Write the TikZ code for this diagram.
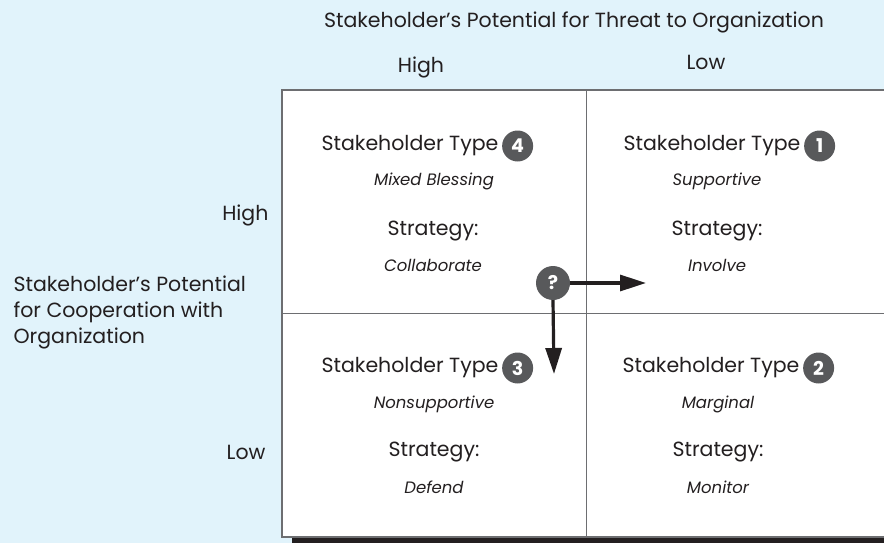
\documentclass[tikz,border=0pt]{standalone}
\usepackage{fontspec}
\setmainfont{Poppins}
\usetikzlibrary{positioning,arrows.meta}
\definecolor{bgblue}{HTML}{E1F3FB}
\definecolor{ink}{HTML}{231F20}
\definecolor{badgegray}{HTML}{58595B}
\definecolor{rulegray}{HTML}{6D6E71}
\begin{document}
\begin{tikzpicture}[x=1pt,y=-1pt,
    lbl/.style={text=ink,font=\fontsize{20.5}{26}\selectfont},
    sub/.style={text=ink,font=\fontsize{16.5}{18}\selectfont\itshape},
    badge/.style={circle,fill=badgegray,text=white,inner sep=0pt,minimum size=31pt,font=\fontsize{19}{19}\selectfont\bfseries},
    bigarrow/.style={draw=ink,line width=3.2pt,-{Triangle[length=26pt,width=16pt]}}]
    % Background
    \fill[bgblue] (0,0) rectangle (884,543);
    \useasboundingbox (0,0) rectangle (884,543);

    % Grid
    \fill[ink] (292,537) rectangle (884,543);
    \fill[white] (282,90) rectangle (884,537);
    \draw[rulegray,line width=1.5pt] (884,90) -- (282,90) -- (282,537) -- (884,537);
    \draw[rulegray,line width=1pt] (586,90) -- (586,537);
    \draw[rulegray,line width=1pt] (282,313) -- (884,313);

    % Axis labels
    \node[lbl] (threat) at (574,22) {Stakeholder’s Potential for Threat to Organization};
    \node[lbl] (threathigh) at (421,67) {High};
    \node[lbl] (threatlow) at (706,62) {Low};
    \node[lbl,anchor=west,align=left] (coop) at (10,312) {Stakeholder’s Potential\\for Cooperation with\\Organization};
    \node[lbl,anchor=east] (coophigh) at (272,215) {High};
    \node[lbl,anchor=east] (cooplow) at (269,452) {Low};

    % Quadrant 4 (top left)
    \node[lbl] (type4) at (410,146) {Stakeholder Type};
    \node[badge,right=0pt of type4] (n4) {4};
    \node[sub] (kind4) at (434,181) {Mixed Blessing};
    \node[lbl] (strat4) at (433,231) {Strategy:};
    \node[sub] (act4) at (433,265) {Collaborate};

    % Quadrant 1 (top right)
    \node[lbl] (type1) at (712,146) {Stakeholder Type};
    \node[badge,right=0pt of type1] (n1) {1};
    \node[sub] (kind1) at (717,181) {Supportive};
    \node[lbl] (strat1) at (717,231) {Strategy:};
    \node[sub] (act1) at (717,265) {Involve};

    % Quadrant 3 (bottom left)
    \node[lbl] (type3) at (410,368) {Stakeholder Type};
    \node[badge,right=0pt of type3] (n3) {3};
    \node[sub] (kind3) at (434,404) {Nonsupportive};
    \node[lbl] (strat3) at (434,452) {Strategy:};
    \node[sub] (act3) at (434,487) {Defend};

    % Quadrant 2 (bottom right)
    \node[lbl] (type2) at (711,368) {Stakeholder Type};
    \node[badge,right=0pt of type2] (n2) {2};
    \node[sub] (kind2) at (718,404) {Marginal};
    \node[lbl] (strat2) at (718,452) {Strategy:};
    \node[sub] (act2) at (718,487) {Monitor};

    % Question and arrows
    \node[badge,minimum size=34pt] (q) at (553,283) {?};
    \coordinate (qright) at (646,283);
    \coordinate (qdown) at (554,374);
    \draw[bigarrow] (q.east) -- (qright);
    \draw[bigarrow] (q.south) -- (qdown);
\end{tikzpicture}
\end{document}
